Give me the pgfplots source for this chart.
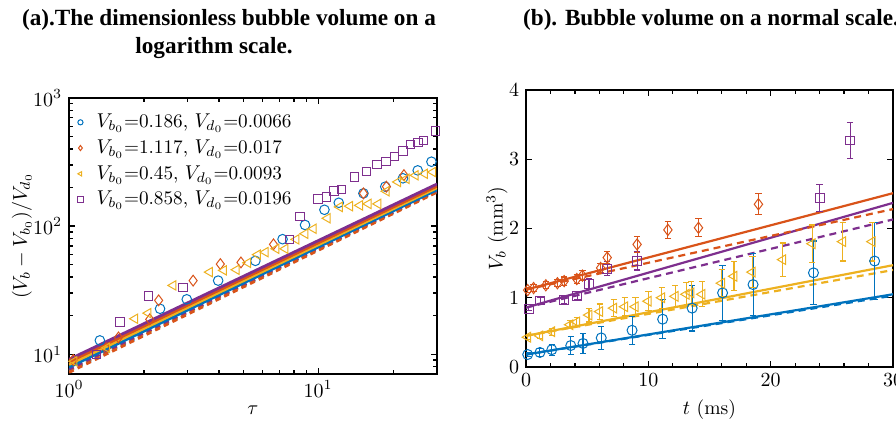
\documentclass[border=0pt]{standalone}
\usepackage{fontspec}
\usepackage{pgfplots}
\pgfplotsset{compat=1.18}
\newfontfamily\titlefont{Liberation Serif}
\definecolor{mblue}{rgb}{0,0.447,0.741}
\definecolor{morange}{rgb}{0.85,0.325,0.098}
\definecolor{myellow}{rgb}{0.929,0.694,0.125}
\definecolor{mpurple}{rgb}{0.494,0.184,0.556}
\pgfplotsset{
  myax/.style={scale only axis, anchor=south west, tick align=inside,
    axis line style={line width=0.9pt}, every tick/.style={black,line width=0.6pt},
    major tick length=3pt, minor tick length=1.8pt, clip=true,
    tick label style={font=\fontsize{9.6}{11}\selectfont},
    label style={font=\fontsize{9.8}{11}\selectfont}},
  solid line/.style={no marks, line width=1.4pt, forget plot},
  dash line/.style={no marks, line width=1.4pt, dash pattern=on 2.6pt off 2.2pt, forget plot},
  rsolid/.style={no marks, line width=1.1pt, forget plot},
  rdash/.style={no marks, line width=1.1pt, dash pattern=on 3.5pt off 2.5pt, forget plot},
  mk/.style={only marks, line width=0.5pt},
  eb/.style={error bars/.cd, y dir=both, y explicit, error mark=-,
    error bar style={line width=0.55pt}, error mark options={line width=0.55pt, mark size=1.6pt, rotate=90}},
}
\begin{document}
\fontsize{9.6}{11}\selectfont
\begin{tikzpicture}
\useasboundingbox (0,0) rectangle (448pt,215.5pt);
% titles
\node[anchor=base, inner sep=0pt, font=\titlefont\bfseries\fontsize{11.6}{14}\selectfont] at (114.5pt,202.5pt) {(a).The dimensionless bubble volume on a};
\node[anchor=base, inner sep=0pt, font=\titlefont\bfseries\fontsize{11.6}{14}\selectfont] at (107pt,188.5pt) {logarithm scale.};
\node[anchor=base, inner sep=0pt, font=\titlefont\bfseries\fontsize{11.6}{14}\selectfont] at (355.5pt,202.5pt) {(b). Bubble volume on a normal scale.};

\begin{axis}[myax, at={(34.5pt,28.5pt)}, width=184pt, height=138pt,
  xmode=log, ymode=log, xmin=1, xmax=30, ymin=7, ymax=1000,
  xtick={1,10}, ytick={10,100,1000},
  minor xtick={2,3,4,5,6,7,8,9,20,30},
  minor ytick={8,9,20,30,40,50,60,70,80,90,200,300,400,500,600,700,800,900},
  xlabel={$\tau$}, ylabel={$(V_b-V_{b_0})/V_{d_0}$},
  xlabel style={at={(axis description cs:0.5,-0.13)}, anchor=center},
  ylabel style={at={(axis description cs:-0.128,0.5)}, anchor=center},
  legend style={draw=none, fill=none, at={(axis description cs:0.0,0.965)}, anchor=north west,
    font=\fontsize{9.6}{11}\selectfont, row sep=0.6pt, inner sep=1pt},
  legend cell align=left,
  legend image code/.code={\path (0cm,0cm) (0.355cm,0cm); \draw[#1, mark size=1.3pt] plot coordinates {(0.15cm,0cm)};},
]
% model lines
\addplot[dash line, mblue] coordinates {(1,7.4) (30,186)};
\addplot[dash line, myellow] coordinates {(1,7.5) (30,186)};
\addplot[dash line, mpurple] coordinates {(1,7.6) (30,188)};
\addplot[dash line, morange] coordinates {(1,7.2) (30,184)};
\addplot[solid line, mblue] coordinates {(1,7.9) (30,192)};
\addplot[solid line, myellow] coordinates {(1,8.3) (30,199)};
\addplot[solid line, morange] coordinates {(1,8.7) (30,205)};
\addplot[solid line, mpurple] coordinates {(1,9.1) (30,213)};
% data
\addplot[mk, mblue, mark=o, mark size=2.4pt] coordinates {
(1.33,12.8) (2.32,22.6) (2.97,26.8) (3.97,37.5) (5.6,53.5) (7.2,79) (8.86,102)
(10.6,134) (12.1,152) (15.2,180) (18.6,203) (21.9,236) (25.1,272) (28.5,318)};
\addlegendentry{$V_{b_0}$=0.186, $V_{d_0}$=0.0066}
\addplot[mk, morange, mark=diamond, mark size=2.7pt] coordinates {
(1.04,9.0) (1.41,11.1) (1.58,13.5) (2.11,18.7) (2.29,26.3) (3.15,37.5) (4.05,50.5)
(4.9,52) (6.62,72) (15.2,180) (18.8,203) (22.1,250)};
\addlegendentry{$V_{b_0}$=1.117, $V_{d_0}$=0.017}
\addplot[mk, myellow, mark=triangle, mark size=2.7pt, mark options={rotate=90}] coordinates {
(1.05,8.8) (1.42,11.2) (1.84,18.9) (2.08,20.9) (2.62,34.4) (3.67,43.7) (4.18,45.1)
(4.7,45.6) (5.23,51.6) (5.72,59.8) (6.14,62.6) (6.79,66.5) (7.38,66.5) (8.17,78.7)
(8.87,87.1) (9.58,95.3) (10.9,115) (12.2,141) (13.4,143) (14.7,145) (15.9,149)
(17.4,149) (18.8,187) (20.9,221) (22.6,234) (24.6,249) (26.8,256) (28.9,264)};
\addlegendentry{$V_{b_0}$=0.45, $V_{d_0}$=0.0093}
\addplot[mk, mpurple, mark=square, mark size=2.1pt] coordinates {
(1.29,9.9) (1.60,17.8) (2.08,28.4) (2.87,33.3) (7.66,78.7) (8.47,119) (10.0,163)
(10.8,169) (11.6,188) (12.4,194) (14.0,242) (15.6,267) (17.2,303) (18.7,320)
(20.3,351) (21.9,385) (23.5,432) (25.2,448) (26.5,464) (29.6,552)};
\addlegendentry{$V_{b_0}$=0.858, $V_{d_0}$=0.0196}
\end{axis}

\begin{axis}[myax, at={(263pt,32pt)}, width=183.5pt, height=138.5pt,
  xmin=0, xmax=30, ymin=0, ymax=4,
  xtick={0,10,20,30}, ytick={0,1,2,3,4}, minor x tick num=4,
  xlabel={$t$ (ms)}, ylabel={$V_b$ (mm$^3$)},
  xlabel style={at={(axis description cs:0.5,-0.155)}, anchor=center},
  ylabel style={at={(axis description cs:-0.079,0.5)}, anchor=center},
]
\addplot[rdash, mblue] coordinates {(0,0.18) (30,1.03)};
\addplot[rsolid, mblue] coordinates {(0,0.18) (30,1.05)};
\addplot[rdash, myellow] coordinates {(0,0.45) (30,1.40)};
\addplot[rsolid, myellow] coordinates {(0,0.45) (30,1.47)};
\addplot[rdash, mpurple] coordinates {(0,0.858) (30,2.13)};
\addplot[rsolid, mpurple] coordinates {(0,0.858) (30,2.37)};
\addplot[rdash, morange] coordinates {(0,1.117) (30,2.28)};
\addplot[rsolid, morange] coordinates {(0,1.117) (30,2.51)};
% data with error bars
\addplot[mk, mblue, mark=o, mark size=2.5pt, eb] coordinates {
(0.14,0.18) +- (0,0.03) (1.14,0.21) +- (0,0.06) (2.11,0.25) +- (0,0.08)
(3.66,0.31) +- (0,0.13) (4.66,0.34) +- (0,0.14) (6.15,0.42) +- (0,0.17)
(8.67,0.53) +- (0,0.20) (11.17,0.69) +- (0,0.28) (13.58,0.85) +- (0,0.33)
(16.07,1.07) +- (0,0.40) (18.56,1.19) +- (0,0.45) (23.5,1.36) +- (0,0.46)
(28.5,1.53) +- (0,0.56)};
\addplot[mk, myellow, mark=triangle, mark size=2.8pt, mark options={rotate=90}, eb] coordinates {
(0.14,0.43) +- (0,0.03) (1.14,0.45) +- (0,0.04) (2.11,0.51) +- (0,0.05)
(3.6,0.61) +- (0,0.06) (4.15,0.65) +- (0,0.07) (5.15,0.75) +- (0,0.10)
(6.04,0.80) +- (0,0.11) (7.18,0.85) +- (0,0.12) (8.08,0.87) +- (0,0.13)
(8.94,0.87) +- (0,0.13) (10.0,0.95) +- (0,0.14) (11.1,1.00) +- (0,0.15)
(12.2,1.02) +- (0,0.16) (13.1,1.05) +- (0,0.17) (13.5,1.07) +- (0,0.17)
(14.4,1.05) +- (0,0.18) (16.0,1.21) +- (0,0.20) (17.0,1.31) +- (0,0.21)
(18.5,1.37) +- (0,0.22) (21.0,1.55) +- (0,0.24) (23.4,1.78) +- (0,0.27)
(25.9,1.81) +- (0,0.28) (28.3,1.81) +- (0,0.28)};
\addplot[mk, mpurple, mark=square, mark size=2.2pt, eb] coordinates {
(0.22,0.84) +- (0,0.03) (1.17,0.96) +- (0,0.04) (3.12,0.97) +- (0,0.05)
(4.2,1.03) +- (0,0.06) (5.15,1.20) +- (0,0.07) (6.64,1.42) +- (0,0.10)
(9.08,1.53) +- (0,0.13) (24.0,2.44) +- (0,0.20) (26.5,3.27) +- (0,0.26)};
\addplot[mk, morange, mark=diamond, mark size=2.8pt, eb] coordinates {
(0.14,1.11) +- (0,0.04) (0.62,1.14) +- (0,0.05) (1.62,1.18) +- (0,0.05)
(2.57,1.21) +- (0,0.05) (3.12,1.24) +- (0,0.06) (4.15,1.27) +- (0,0.06)
(4.61,1.32) +- (0,0.07) (6.1,1.43) +- (0,0.07) (6.64,1.58) +- (0,0.09)
(9.08,1.77) +- (0,0.12) (11.6,1.98) +- (0,0.12) (14.1,2.01) +- (0,0.13)
(19.0,2.35) +- (0,0.15)};
\end{axis}
\end{tikzpicture}
\end{document}
